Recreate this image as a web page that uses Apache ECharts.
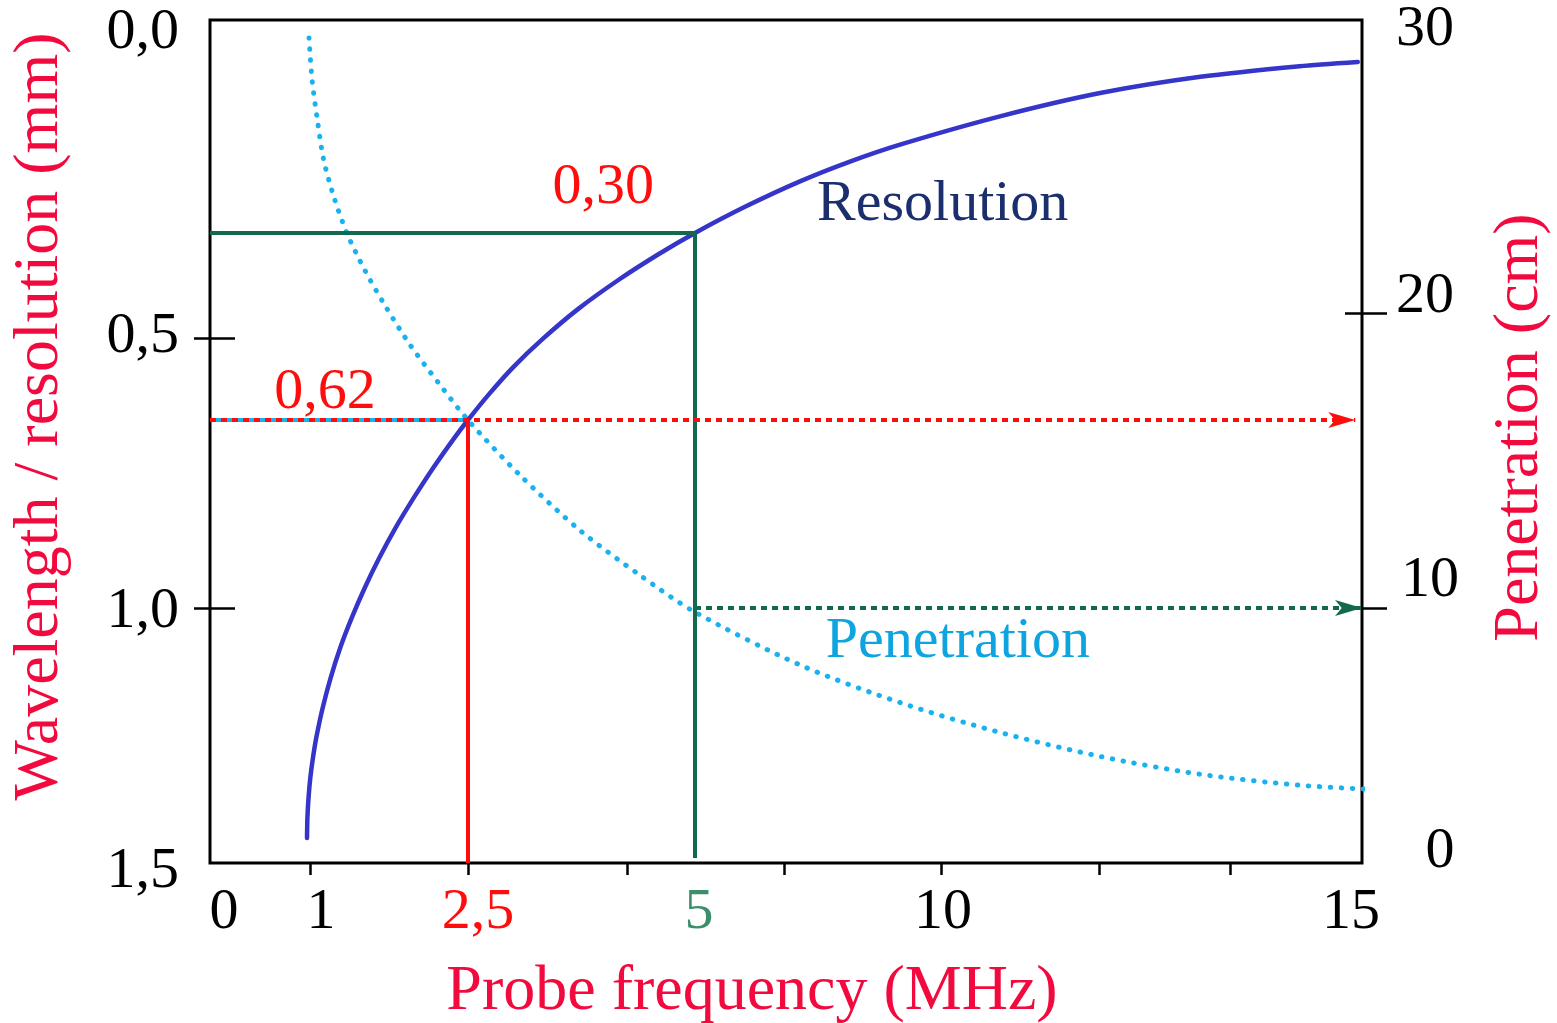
<!DOCTYPE html>
<html>
<head>
<meta charset="utf-8">
<title>Probe frequency: resolution and penetration</title>
<script src="https://cdn.jsdelivr.net/npm/echarts@6.0.0/dist/echarts.min.js"></script>
<style>
  html, body { margin: 0; padding: 0; background: #fff; }
  #chart { width: 1557px; height: 1023px; }
</style>
</head>
<body>
<div id="chart"></div>
<script>
// resolution curve (solid blue): MHz -> mm
var resFreq = [0.97, 0.974, 0.985, 1.003, 1.028, 1.059, 1.12, 1.196, 1.287, 1.395, 1.518, 1.657, 1.812, 1.983, 2.169, 2.371, 2.5,
    2.72, 2.996, 3.326, 3.711, 4.152, 4.593, 5, 6.016, 7.134, 8.15, 9.167, 10.7, 11.89, 13.08, 14.26, 14.95];
var resMm = [1.451, 1.412, 1.373, 1.333, 1.294, 1.255, 1.196, 1.137, 1.078, 1.02, 0.96, 0.899, 0.838, 0.778, 0.717, 0.656, 0.62,
    0.584, 0.543, 0.501, 0.445, 0.39, 0.341, 0.30, 0.263, 0.227, 0.199, 0.175, 0.135, 0.102, 0.079, 0.064, 0.058];

// penetration curve (dotted cyan): MHz -> cm
var penFreq = [0.99, 1.02, 1.07, 1.13, 1.23, 1.35, 1.52, 1.71, 1.95, 2.22, 2.5, 3.07, 3.73, 4.39, 5, 7.13, 9.17, 10.7, 11.89, 13.08, 14.26, 15.11];
var penCm = [29.42, 27.98, 26.61, 25.24, 23.94, 22.74, 21.47, 20.27, 18.92, 17.63, 16.37, 14.51, 12.64, 11.12, 9.84, 7.77, 6.29, 5.12, 4.18, 3.48, 3.05, 2.89];

// tick labels / ticks
var freqLabels = ['0', '1', '2,5', '5', '10', '15'];
var freqLabelValues = [0, 1, 2.5, 5, 10, 15];
var freqTickValues = [1, 2.5, 4.25, 6.81, 10, 11.88, 13.43];
var mmLabels = ['0,0', '0,5', '1,0', '1,5'];
var mmLabelValues = [0, 0.5, 1.0, 1.5];
var mmTickValues = [0.5, 1.0];
var cmLabels = ['0', '10', '20', '30'];
var cmLabelValues = [0, 10, 20, 30];
var cmTickValues = [10, 20];

// worked examples
var exRed = { freq: 2.5, mm: 0.62, arrowEnd: 14.92 };
var exGreen = { freq: 5, mm: 0.30, mmEnd: 1.49, cm: 10, arrowEnd: 15 };

// ---- layout: the drawing is not to scale, so each axis is piecewise ----
var plot = { left: 210, top: 20, right: 1362, bottom: 863 };
var freqScale = { values: [0, 1, 2.5, 5, 10, 15], px: [210, 310, 468, 695, 941, 1362] };
var mmScale = { values: [0, 0.30, 0.5, 0.62, 1.0, 1.5], px: [21, 233, 338, 420, 608, 863] };
var cmScale = { values: [0, 10, 20, 30], px: [863, 608, 313, 21] };

var serif = '"Liberation Serif", "DejaVu Serif", serif';
var red = '#ff0d0d', titleRed = '#f20a3e', green = '#12694e', cyan = '#1ab2ee', blue = '#3535c9';

var plotW = plot.right - plot.left, plotH = plot.bottom - plot.top;
function interp(v, s) {
    var i = 1;
    while (i < s.values.length - 1 && v > s.values[i]) i++;
    var t = (v - s.values[i - 1]) / (s.values[i] - s.values[i - 1]);
    return s.px[i - 1] + t * (s.px[i] - s.px[i - 1]);
}
function fx(f) { return (interp(f, freqScale) - plot.left) / plotW; }
function fmm(v) { return (interp(v, mmScale) - plot.top) / plotH; }
function fcm(v) { return (interp(v, cmScale) - plot.top) / plotH; }
function pairs(xs, ys, fy) { return xs.map(function (x, i) { return [fx(x), fy(ys[i])]; }); }

// label nudges in px (right / down)
var xShift = [14, 11, 10, 4, 2, -11];
var mmShiftY = [12, -1, 4, 9];
var cmShiftX = [12, 2, -3, -3];
var cmShiftY = [-11, -27, -16, 9];

function pad(dx, dy) {
    return [dy > 0 ? 2 * dy : 0, dx < 0 ? -2 * dx : 0, dy < 0 ? -2 * dy : 0, dx > 0 ? 2 * dx : 0];
}
function customLabels(values, texts, toFrac, colors, dxs, dys) {
    var fracs = values.map(function (v) { return Math.min(1, Math.max(0, toFrac(v))); });
    var rich = {};
    texts.forEach(function (t, i) {
        rich['l' + i] = { fontFamily: serif, fontSize: 58, color: colors[i], padding: pad(dxs[i] || 0, dys[i] || 0) };
    });
    return {
        customValues: fracs,
        formatter: function (val) {
            var best = 0;
            fracs.forEach(function (f, i) { if (Math.abs(f - val) < Math.abs(fracs[best] - val)) best = i; });
            return '{l' + best + '|' + texts[best] + '}';
        },
        rich: rich
    };
}

var tickStyle = { color: '#000', width: 2.5 };
function yAxisBase(pos) {
    return {
        type: 'value', position: pos, offset: 0, min: 0, max: 1, inverse: true,
        axisLine: { show: false, onZero: false }, splitLine: { show: false }
    };
}

var xAxis = {
    type: 'value', position: 'bottom', min: 0, max: 1,
    axisLine: { show: false, onZero: false }, splitLine: { show: false },
    axisTick: { show: true, customValues: freqTickValues.map(fx), length: 12, lineStyle: tickStyle },
    axisLabel: Object.assign({ margin: 21, fontFamily: serif, fontSize: 58, color: '#000' },
        customLabels(freqLabelValues, freqLabels, fx, ['#000', '#000', red, '#3b8f6c', '#000', '#000'], xShift, [])),
    name: 'Probe frequency (MHz)', nameLocation: 'middle', nameGap: 97, nameMoveOverlap: false,
    nameTextStyle: { color: titleRed, fontFamily: serif, fontSize: 64, padding: [0, 68, 0, 0] }
};

var yLeft = Object.assign(yAxisBase('left'), {
    axisTick: { show: true, customValues: mmTickValues.map(fmm), length: 16, lineStyle: tickStyle },
    axisLabel: Object.assign({ margin: 31, fontFamily: serif, fontSize: 58, color: '#000' },
        customLabels(mmLabelValues, mmLabels, fmm, ['#000', '#000', '#000', '#000'], [], mmShiftY)),
    name: 'Wavelength / resolution (mm)', nameLocation: 'middle', nameRotate: 90, nameGap: 138, nameMoveOverlap: false,
    nameTextStyle: { color: titleRed, fontFamily: serif, fontSize: 64, padding: [0, 0, 0, 50] }
});
var yRight = Object.assign(yAxisBase('right'), {
    axisTick: { show: true, customValues: cmTickValues.map(fcm), length: 25, lineStyle: tickStyle },
    axisLabel: Object.assign({ margin: 66, align: 'center', fontFamily: serif, fontSize: 58, color: '#000' },
        customLabels(cmLabelValues, cmLabels, fcm, ['#000', '#000', '#000', '#000'], cmShiftX, cmShiftY)),
    name: 'Penetration (cm)', nameLocation: 'middle', nameRotate: 90, nameGap: 126, nameMoveOverlap: false,
    nameTextStyle: { color: titleRed, fontFamily: serif, fontSize: 64, padding: [0, 0, 0, 28] }
});
// inner halves of the cross ticks
var yLeftIn = Object.assign(yAxisBase('left'), {
    axisTick: { show: true, inside: true, customValues: mmTickValues.map(fmm), length: 25, lineStyle: tickStyle },
    axisLabel: { show: false }
});
var yRightIn = Object.assign(yAxisBase('right'), {
    axisTick: { show: true, inside: true, customValues: cmTickValues.map(fcm), length: 17, lineStyle: tickStyle },
    axisLabel: { show: false }
});

function plainLine(name, pts, color, width, yIdx, type) {
    return {
        name: name, type: 'line', yAxisIndex: yIdx, data: pts, symbol: 'none', silent: true,
        lineStyle: { color: color, width: width, type: type || 'solid' }, z: 3
    };
}
function arrowLine(name, pts, color, yIdx) {
    return {
        name: name, type: 'line', yAxisIndex: yIdx, silent: true, z: 4,
        showSymbol: true, showAllSymbol: true,
        data: pts.map(function (p, i) {
            return i === pts.length - 1
                ? { value: p, symbol: 'arrow', symbolSize: [12, 27], symbolRotate: -90 }
                : { value: p, symbol: 'none' };
        }),
        lineStyle: { color: color, width: 4, type: [6, 5] },
        itemStyle: { color: color }
    };
}
function textMark(text, coord, color) {
    return { name: text, coord: coord, label: { formatter: text, color: color } };
}

var chart = echarts.init(document.getElementById('chart'));
chart.setOption({
    animation: false,
    backgroundColor: '#fff',
    grid: {
        left: plot.left, top: plot.top, width: plotW, height: plotH,
        show: true, borderColor: '#000', borderWidth: 3, outerBoundsMode: 'none'
    },
    xAxis: xAxis,
    yAxis: [yLeft, yRight, yLeftIn, yRightIn],
    series: [
        {
            name: 'Penetration', type: 'line', yAxisIndex: 1, clip: false, silent: true,
            data: pairs(penFreq, penCm, fcm), symbol: 'none', smooth: 0.3, z: 2,
            lineStyle: { color: cyan, width: 5, type: [0.5, 10.5], cap: 'round' },
            markPoint: {
                symbol: 'circle', symbolSize: 0, silent: true,
                label: { show: true, position: 'inside', fontFamily: serif, fontSize: 58 },
                data: [textMark('Penetration', [fx(10.2), fcm(8.67)], '#0ea4e0')]
            }
        },
        plainLine('cyan under red', [[fx(0), fmm(exRed.mm)], [fx(exRed.freq), fmm(exRed.mm)]], cyan, 4, 0),
        arrowLine('red arrow', [[fx(0), fmm(exRed.mm)], [fx(exRed.arrowEnd), fmm(exRed.mm)]], red, 0),
        arrowLine('green arrow', [[fx(exGreen.freq), fcm(exGreen.cm)], [fx(exGreen.arrowEnd), fcm(exGreen.cm)]], green, 1),
        {
            name: 'Resolution', type: 'line', yAxisIndex: 0, silent: true,
            data: pairs(resFreq, resMm, fmm), symbol: 'none', smooth: 0.25, z: 3,
            lineStyle: { color: blue, width: 4.5, cap: 'round' },
            markPoint: {
                symbol: 'circle', symbolSize: 0, silent: true,
                label: { show: true, position: 'inside', fontFamily: serif, fontSize: 58 },
                data: [
                    textMark('Resolution', [fx(10.02), fmm(0.26)], '#1b2e6e'),
                    textMark('0,30', [fx(3.99), fmm(0.236)], red),
                    textMark('0,62', [fx(1.142), fmm(0.58)], red)
                ]
            }
        },
        plainLine('red drop', [[fx(exRed.freq), fmm(exRed.mm)], [fx(exRed.freq), fmm(1.5)]], red, 4, 0),
        plainLine('green L', [[fx(0), fmm(exGreen.mm)], [fx(exGreen.freq), fmm(exGreen.mm)], [fx(exGreen.freq), fmm(exGreen.mmEnd)]], green, 4, 0)
    ]
});
</script>
</body>
</html>
